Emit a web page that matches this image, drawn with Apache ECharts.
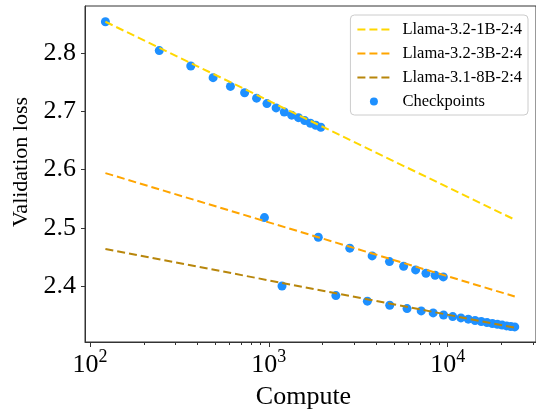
<!DOCTYPE html>
<html>
<head>
  <meta charset="UTF-8">
  <title>Validation loss vs compute</title>
  <script src="https://cdn.jsdelivr.net/npm/echarts@6/dist/echarts.min.js"></script>
  <style>
    html, body { margin: 0; padding: 0; background: #fff; }
    #chart { width: 536px; height: 419px; }
  </style>
</head>
<body>
  <div id="chart"></div>
  <script>
    // checkpoints
    const compute1B = [122, 244, 366, 488, 610, 732, 854, 976, 1098, 1220, 1342, 1464, 1586, 1708, 1830, 1952];
    const loss1B = [2.854, 2.8045, 2.778, 2.758, 2.743, 2.732, 2.7227, 2.7134, 2.706, 2.699, 2.6935, 2.6893, 2.6842, 2.6797, 2.6763, 2.6728];

    const compute3B = [945, 1890, 2835, 3780, 4725, 5670, 6615, 7560, 8505, 9450];
    const loss3B = [2.5175, 2.4838, 2.465, 2.4517, 2.4419, 2.434, 2.4277, 2.422, 2.4185, 2.4156];

    const compute8B = [1185, 2370, 3555, 4740, 5925, 7110, 8295, 9480, 10665, 11850,
                       13035, 14220, 15405, 16590, 17775, 18960, 20145, 21330, 22515, 23700];
    const loss8B = [2.400, 2.3835, 2.374, 2.367, 2.3612, 2.3572, 2.3538, 2.3502, 2.3474, 2.3452,
                    2.343, 2.3408, 2.339, 2.3372, 2.3356, 2.3343, 2.3328, 2.3315, 2.3305, 2.3297];

    // fitted power-law lines (end points)
    const fitX = [122, 23700];
    const fit1B = [2.854, 2.514];
    const fit3B = [2.594, 2.382];
    const fit8B = [2.4637, 2.3285];

    const yTicks = [2.4, 2.5, 2.6, 2.7, 2.8];
    const xMajor = [100, 1000, 10000];
    const xMinor = [200, 300, 400, 500, 600, 700, 800, 900,
                    2000, 3000, 4000, 5000, 6000, 7000, 8000, 9000, 20000, 30000];

    const font = 'Liberation Serif';
    const pair = (xs, ys) => xs.map((x, i) => [x, ys[i]]);

    const chart = echarts.init(document.getElementById('chart'));

    const fitLine = (name, ys, color) => ({
      name: name,
      type: 'line',
      data: pair(fitX, ys),
      showSymbol: false,
      symbol: 'none',
      z: 3,
      lineStyle: { color: color, width: 2, type: [8, 4] },
      itemStyle: { color: color }
    });
    const dots = (xs, ys) => ({
      name: 'Checkpoints',
      type: 'scatter',
      data: pair(xs, ys),
      symbolSize: 9,
      z: 2,
      itemStyle: { color: '#1E90FF', opacity: 1 }
    });
    // legend entry for a fit line: dashed stroke only, no marker
    const lineEntry = name => ({ name: name, itemStyle: { opacity: 0 } });

    chart.setOption({
      animation: false,
      backgroundColor: '#fff',
      textStyle: { fontFamily: font },
      grid: {
        left: 85, right: -2, top: 6, bottom: 77,
        show: true, borderColor: '#333', borderWidth: 1
      },
      legend: {
        right: 8, top: 15,
        orient: 'vertical',
        itemWidth: 33, itemHeight: 8, itemGap: 7,
        padding: [6, 6, 5, 6],
        borderColor: '#ccc', borderWidth: 1, borderRadius: 4,
        backgroundColor: 'rgba(255,255,255,0.8)',
        textStyle: { fontFamily: font, fontSize: 16.5, color: '#000', lineHeight: 16, padding: [0, 0, 0, 7] },
        data: [
          lineEntry('Llama-3.2-1B-2:4'), lineEntry('Llama-3.2-3B-2:4'), lineEntry('Llama-3.1-8B-2:4'),
          { name: 'Checkpoints', icon: 'circle' }
        ]
      },
      xAxis: [
        {
          type: 'log', logBase: 10, min: 93.8, max: 31160,
          name: 'Compute', nameLocation: 'middle', nameGap: 42,
          nameTextStyle: { fontFamily: font, fontSize: 26, color: '#000', padding: [0, 14, 0, 0] },
          axisLine: { lineStyle: { color: '#333', width: 1 } },
          axisTick: { length: 5, lineStyle: { color: '#333' }, customValues: xMajor },
          axisLabel: {
            customValues: xMajor,
            margin: 6,
            formatter: v => '{b|10}{s|' + Math.round(Math.log10(v)) + '}',
            rich: {
              b: { fontFamily: font, fontSize: 26, color: '#000', verticalAlign: 'bottom' },
              s: { fontFamily: font, fontSize: 18, color: '#000', verticalAlign: 'bottom', padding: [0, 0, 12, 0] }
            }
          },
          splitLine: { show: false }
        },
        {
          type: 'log', logBase: 10, min: 93.8, max: 31160,
          position: 'bottom',
          axisLine: { show: false },
          axisTick: { length: 3, lineStyle: { color: '#333' }, customValues: xMinor },
          axisLabel: { show: false },
          splitLine: { show: false }
        }
      ],
      yAxis: {
        type: 'value', min: 2.3038, max: 2.8811,
        name: 'Validation loss', nameLocation: 'middle', nameGap: 48,
        nameTextStyle: { fontFamily: font, fontSize: 22, color: '#000', padding: [0, 0, 0, 24] },
        axisLine: { show: true, lineStyle: { color: '#333', width: 1 } },
        axisTick: { show: true, length: 4, lineStyle: { color: '#333' }, customValues: yTicks },
        axisLabel: {
          customValues: yTicks, margin: 9,
          fontFamily: font, fontSize: 26, color: '#000',
          formatter: v => v.toFixed(1)
        },
        splitLine: { show: false }
      },
      series: [
        fitLine('Llama-3.2-1B-2:4', fit1B, '#FFD700'),
        fitLine('Llama-3.2-3B-2:4', fit3B, '#FFA500'),
        fitLine('Llama-3.1-8B-2:4', fit8B, '#B8860B'),
        dots(compute1B, loss1B),
        dots(compute3B, loss3B),
        dots(compute8B, loss8B)
      ]
    });

    window.addEventListener('resize', () => chart.resize());
  </script>
</body>
</html>
